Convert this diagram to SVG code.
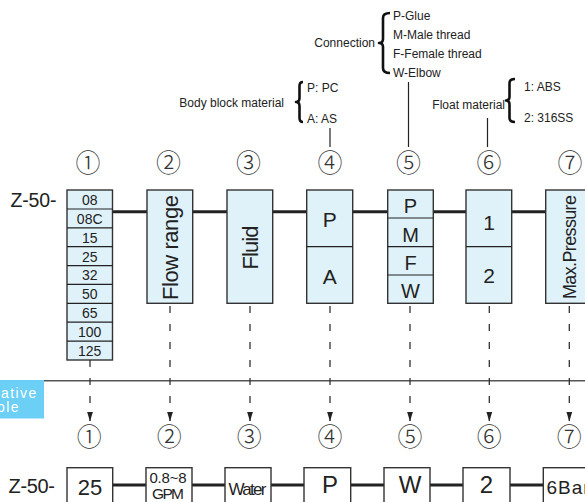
<svg xmlns="http://www.w3.org/2000/svg" width="585" height="502" viewBox="0 0 585 502">
<defs>
<style>
.t{font-family:"Liberation Sans",Arial,sans-serif;fill:#222}
.a{font-size:12px}
.c{font-family:"Noto Sans CJK JP","DejaVu Sans",sans-serif;font-size:25px;fill:#333;text-anchor:middle;font-weight:300}
.bx{fill:#dff2fa;stroke:#333;stroke-width:1.4}
.wb{fill:#fff;stroke:#333;stroke-width:1.4}
.m{text-anchor:middle}
.br{fill:none;stroke:#111;stroke-width:2.6;stroke-linejoin:round}
.ln{stroke:#222;stroke-width:1.2}
.ds{stroke:#333;stroke-width:1.3;stroke-dasharray:7 11;fill:none}
.lb{font-family:"Liberation Sans",Arial,sans-serif;font-size:14px;letter-spacing:1.4px;fill:#fff}
</style>
<marker id="ar" viewBox="0 0 10 6" refX="10" refY="3" markerWidth="10" markerHeight="6" markerUnits="userSpaceOnUse" orient="auto">
<path d="M0,0 L10,3 L0,6 Z" fill="#222"/>
</marker>
</defs>

<!-- annotations -->
<g id="annotations">
<text class="t a" x="375" y="47" text-anchor="end">Connection</text>
<path class="br" d="M390,13 Q383,13 383,18 L383,39 Q383,43 379,43 Q383,43 383,47 L383,68 Q383,73 390,73"/>
<text class="t a" x="393" y="20">P-Glue</text>
<text class="t a" x="393" y="39">M-Male thread</text>
<text class="t a" x="393" y="58">F-Female thread</text>
<text class="t a" x="393" y="77">W-Elbow</text>
<line class="ln" x1="408.5" y1="82" x2="408.5" y2="147"/>

<text class="t a" x="284" y="107" text-anchor="end">Body block material</text>
<path class="br" d="M303,82 Q299.5,82 299.5,86 L299.5,98 Q299.5,102 296,102 Q299.5,102 299.5,106 L299.5,118 Q299.5,122 303,122"/>
<text class="t a" x="307" y="91.5">P: PC</text>
<text class="t a" x="307" y="122.5">A: AS</text>
<line class="ln" x1="330" y1="128" x2="330" y2="147"/>

<text class="t a" x="505" y="109" text-anchor="end">Float material</text>
<path class="br" d="M515,79 Q509.5,79 509.5,83 L509.5,96.5 Q509.5,100.5 506,100.5 Q509.5,100.5 509.5,104.5 L509.5,118 Q509.5,122 515,122"/>
<text class="t a" x="524" y="91">1: ABS</text>
<text class="t a" x="524" y="122">2: 316SS</text>
<line class="ln" x1="487.5" y1="118" x2="487.5" y2="147"/>
</g>

<!-- top circled numbers -->
<g id="top-numbers">
<text class="c" x="88" y="172">①</text>
<text class="c" x="168.5" y="172">②</text>
<text class="c" x="248.5" y="172">③</text>
<text class="c" x="330" y="172">④</text>
<text class="c" x="408.5" y="172">⑤</text>
<text class="c" x="489" y="172">⑥</text>
<text class="c" x="570" y="172">⑦</text>
</g>

<!-- connectors -->
<g id="connectors">
<line x1="112" y1="211.7" x2="585" y2="211.7" stroke="#222" stroke-width="3"/>
<line x1="112" y1="485" x2="585" y2="485" stroke="#222" stroke-width="3"/>
<line x1="44" y1="380.7" x2="585" y2="380.7" stroke="#555" stroke-width="1.6"/>
<line class="ds" x1="90" y1="306" x2="90" y2="421.5" marker-end="url(#ar)"/>
<line class="ds" x1="170" y1="306" x2="170" y2="421.5" marker-end="url(#ar)"/>
<line class="ds" x1="250" y1="306" x2="250" y2="421.5" marker-end="url(#ar)"/>
<line class="ds" x1="330" y1="306" x2="330" y2="421.5" marker-end="url(#ar)"/>
<line class="ds" x1="410" y1="306" x2="410" y2="421.5" marker-end="url(#ar)"/>
<line class="ds" x1="489.3" y1="306" x2="489.3" y2="421.5" marker-end="url(#ar)"/>
<line class="ds" x1="569.3" y1="306" x2="569.3" y2="421.5" marker-end="url(#ar)"/>
</g>

<text class="t" x="10.5" y="206.7" font-size="19.5" textLength="46">Z-50-</text>

<!-- top nodes -->
<g id="node1">
<rect class="bx" x="67" y="190" width="45.5" height="170"/>
<g class="ln">
<line x1="67" y1="209" x2="112.5" y2="209"/>
<line x1="67" y1="227.8" x2="112.5" y2="227.8"/>
<line x1="67" y1="246.7" x2="112.5" y2="246.7"/>
<line x1="67" y1="265.6" x2="112.5" y2="265.6"/>
<line x1="67" y1="284.4" x2="112.5" y2="284.4"/>
<line x1="67" y1="303.3" x2="112.5" y2="303.3"/>
<line x1="67" y1="322.2" x2="112.5" y2="322.2"/>
<line x1="67" y1="341.1" x2="112.5" y2="341.1"/>
</g>
<g class="t m" font-size="14">
<text x="89.7" y="204.8">08</text>
<text x="89.7" y="223.7">08C</text>
<text x="89.7" y="242.6">15</text>
<text x="89.7" y="261.5">25</text>
<text x="89.7" y="280.4">32</text>
<text x="89.7" y="299.2">50</text>
<text x="89.7" y="318.1">65</text>
<text x="89.7" y="337">100</text>
<text x="89.7" y="355.9">125</text>
</g>
</g>

<g id="node2">
<rect class="bx" x="147" y="190" width="45.7" height="113.3"/>
<text class="t" font-size="22" textLength="105" transform="translate(178,300) rotate(-90)">Flow range</text>
</g>

<g id="node3">
<rect class="bx" x="227" y="190" width="45.7" height="113.3"/>
<text class="t" font-size="22" textLength="44" transform="translate(258,269.5) rotate(-90)">Fluid</text>
</g>

<g id="node4">
<rect class="bx" x="306.7" y="190" width="46" height="113.3"/>
<line class="ln" x1="306.7" y1="246.7" x2="352.7" y2="246.7"/>
<g class="t m" font-size="21">
<text x="329.7" y="226.7">P</text>
<text x="329.7" y="284.3">A</text>
</g>
</g>

<g id="node5">
<rect class="bx" x="387.7" y="190" width="45.6" height="113.3"/>
<g class="ln">
<line x1="387.7" y1="218" x2="433.3" y2="218"/>
<line x1="387.7" y1="246.7" x2="433.3" y2="246.7"/>
<line x1="387.7" y1="275" x2="433.3" y2="275"/>
</g>
<g class="t m" font-size="20">
<text x="410.5" y="213.3">P</text>
<text x="410.5" y="241.7">M</text>
<text x="410.5" y="270">F</text>
<text x="410.5" y="297.7">W</text>
</g>
</g>

<g id="node6">
<rect class="bx" x="466" y="190" width="45.7" height="113.3"/>
<line class="ln" x1="466" y1="246.7" x2="511.7" y2="246.7"/>
<g class="t m" font-size="21">
<text x="489" y="230">1</text>
<text x="489" y="283.3">2</text>
</g>
</g>

<g id="node7">
<rect class="bx" x="545.7" y="190" width="48" height="113.3"/>
<text class="t" font-size="18" textLength="104" transform="translate(575.5,299) rotate(-90)">Max.Pressure</text>
</g>

<!-- blue label -->
<g id="label">
<rect x="0" y="380" width="44" height="38.5" fill="#6ccff6"/>
<text class="lb" x="1" y="398">ative</text>
<text class="lb" x="-3" y="412">ple</text>
</g>

<!-- bottom circled numbers -->
<g id="bottom-numbers">
<text class="c" x="89.3" y="445.5">①</text>
<text class="c" x="169.3" y="445.5">②</text>
<text class="c" x="249.3" y="445.5">③</text>
<text class="c" x="330" y="445.5">④</text>
<text class="c" x="410" y="445.5">⑤</text>
<text class="c" x="489.3" y="445.5">⑥</text>
<text class="c" x="569.3" y="445.5">⑦</text>
</g>

<text class="t" x="8.5" y="493.3" font-size="20" textLength="46.5">Z-50-</text>

<!-- bottom nodes -->
<g id="ex1">
<rect class="wb" x="67" y="467.7" width="45.7" height="40"/>
<text class="t m" x="90" y="495" font-size="22">25</text>
</g>
<g id="ex2">
<rect class="wb" x="146" y="467.7" width="46" height="40"/>
<text class="t m" x="168" y="483" font-size="15" textLength="37">0.8~8</text>
<text class="t m" x="168" y="498.5" font-size="15.5" textLength="32">GPM</text>
</g>
<g id="ex3">
<rect class="wb" x="225" y="467.7" width="46" height="40"/>
<text class="t m" x="247.5" y="495" font-size="17" textLength="38">Water</text>
</g>
<g id="ex4">
<rect class="wb" x="304" y="467.7" width="46.7" height="40"/>
<text class="t m" x="330" y="493.3" font-size="24">P</text>
</g>
<g id="ex5">
<rect class="wb" x="384" y="467.7" width="46" height="40"/>
<text class="t m" x="410" y="493.3" font-size="24">W</text>
</g>
<g id="ex6">
<rect class="wb" x="463" y="467.7" width="47" height="40"/>
<text class="t m" x="486.5" y="493.3" font-size="24">2</text>
</g>
<g id="ex7">
<rect class="wb" x="543.3" y="467.7" width="50" height="40"/>
<text class="t" x="546.5" y="494" font-size="19" textLength="43">6Bar</text>
</g>
</svg>
